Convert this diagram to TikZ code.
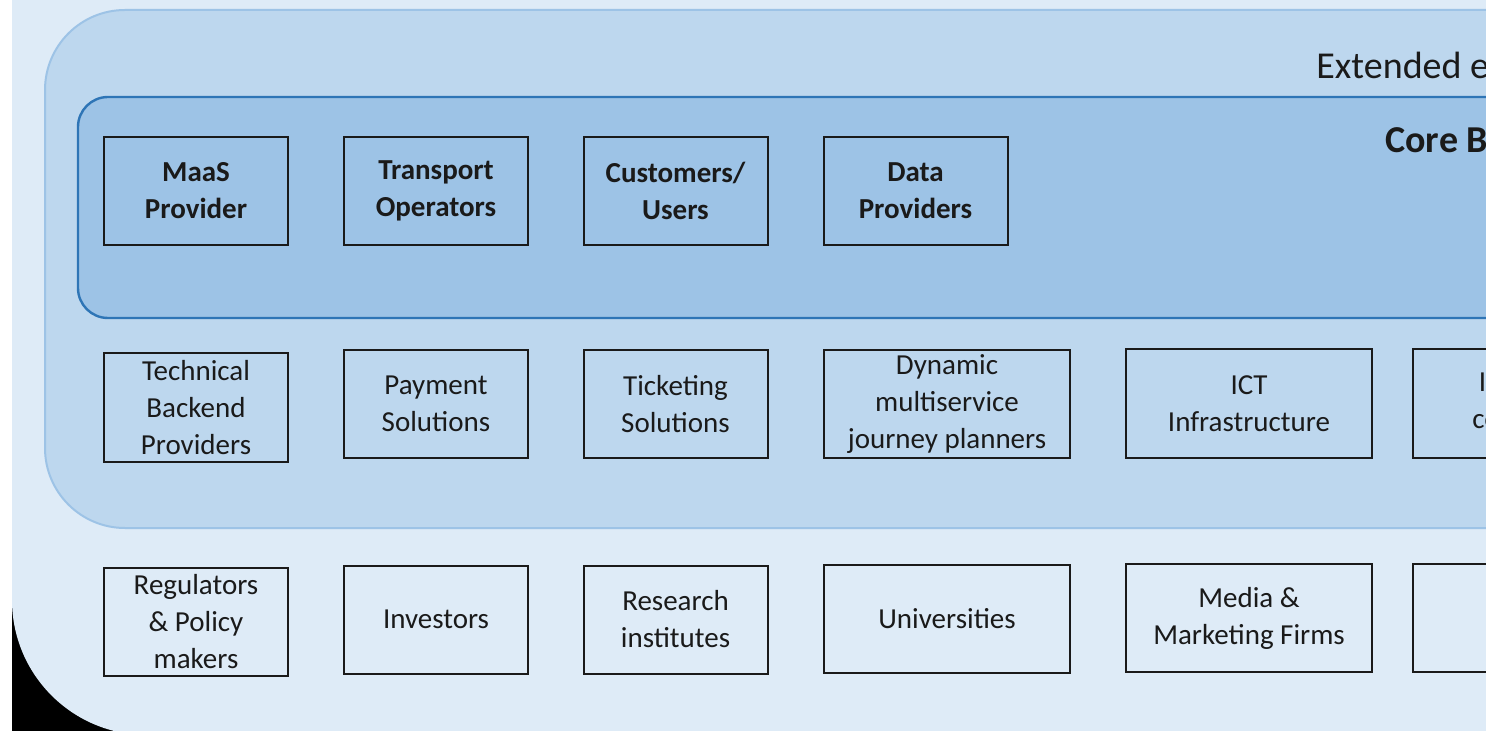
\documentclass[tikz,border=0pt]{standalone}
\usepackage{fontspec}
\setmainfont{Carlito}
\definecolor{outerblue}{HTML}{DEEBF7}
\definecolor{extblue}{HTML}{BDD7EE}
\definecolor{extline}{HTML}{9DC3E6}
\definecolor{coreblue}{HTML}{9DC3E6}
\definecolor{coreline}{HTML}{2E75B6}
\definecolor{ink}{HTML}{1A1A1A}
\tikzset{
  actor/.style={draw=ink, line width=1pt, rectangle, inner sep=0pt, align=center,
    text=ink, font=\fontsize{14.5}{18.5}\selectfont},
  narrow/.style={actor, minimum width=92pt, minimum height=54pt},
  wide/.style={actor, minimum width=123pt, minimum height=54pt},
  coreactor/.style={narrow, font=\fontsize{14.5}{18.5}\selectfont\bfseries},
  title/.style={anchor=base west, inner sep=0pt, text=ink,
    font=\fontsize{19}{23}\selectfont}
}
\begin{document}
\begin{tikzpicture}[x=0.5pt, y=-0.5pt]
  \useasboundingbox (0,0) rectangle (1486,731);
  \clip (0,0) rectangle (1486,731);
  % background layers
  \fill[white] (0,0) rectangle (1486,731);
  \fill[black] (12,500) rectangle (320,731);
  \fill[black] (12,0) rectangle (15,15);
  \fill[outerblue, rounded corners=67.5pt] (12,-300) rectangle (1800,735);
  \filldraw[fill=extblue, draw=extline, line width=1pt, rounded corners=40pt]
    (45,10) rectangle (1800,528);
  \filldraw[fill=coreblue, draw=coreline, line width=1.2pt, rounded corners=15pt]
    (78,97) rectangle (1800,318);
  % layer titles
  \node[title] (ext) at (1316,79) {Extended ecosystem};
  \node[title, font=\fontsize{19}{23}\selectfont\bfseries] (core) at (1385,153) {Core Business Ecosystem};
  % core business actors
  \node[coreactor] (maas) at (196,191) {MaaS\\Provider};
  \node[coreactor] (operators) at (436,191) {Transport\\Operators};
  \node[coreactor] (customers) at (675.5,191) {Customers/\\Users};
  \node[coreactor] (data) at (915.5,191) {Data\\Providers};
  % extended ecosystem actors
  \node[narrow] (backend) at (196,407.5) {Technical\\Backend\\Providers};
  \node[narrow] (payment) at (436,404) {Payment\\Solutions};
  \node[narrow] (ticketing) at (675.5,404) {Ticketing\\Solutions};
  \node[wide] (planners) at (947,404) {Dynamic\\multiservice\\journey planners};
  \node[wide] (ict) at (1249,403.5) {ICT\\Infrastructure};
  \node[wide] (insurance) at (1536,403.5) {Insurance\\companies};
  % wider ecosystem actors
  \node[narrow] (regulators) at (196,622) {Regulators\\\& Policy\\makers};
  \node[narrow] (investors) at (436,619.5) {Investors};
  \node[narrow] (research) at (675.5,619.5) {Research\\institutes};
  \node[wide] (universities) at (947,619) {Universities};
  \node[wide] (media) at (1249,618) {Media \&\\Marketing Firms};
  \node[wide] (other) at (1536,618) {};
\end{tikzpicture}
\end{document}
